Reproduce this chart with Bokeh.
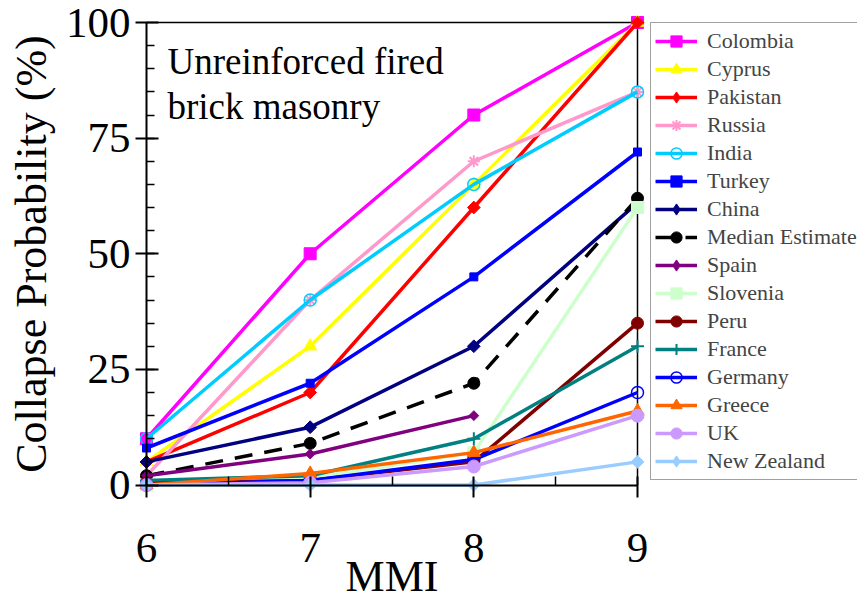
import math
from bokeh.plotting import figure
from bokeh.models import Legend, LegendItem, FixedTicker, Label, Range1d
from bokeh.embed import file_html
from bokeh.resources import INLINE

# ---- data ----
mmi = [6, 7, 8, 9]
mmi_spain = [6, 7, 8]
colombia = [10, 50, 80, 100]
cyprus = [5, 30, 65, 100]
pakistan = [5, 20, 60, 100]
russia = [2, 40, 70, 85]
india = [10, 40, 65, 85]
turkey = [8, 22, 45, 72]
china = [5, 12.5, 30, 61]
median = [2, 9, 22, 62]
spain = [2, 6.7, 15]
slovenia = [0, 1.5, 7, 60]
peru = [0.5, 1, 5, 35]
france = [1, 2, 10, 30]
germany = [0, 1, 5.5, 20]
greece = [0, 2.5, 7, 16]
uk = [0, 0.5, 4, 15]
new_zealand = [0, 0, 0, 5]

x_ticks = [6, 7, 8, 9]
x_minor = [6.5, 7.5, 8.5]
y_ticks = [0, 25, 50, 75, 100]
y_minor = list(range(5, 100, 5))

FONT = "Liberation Serif"
D = math.pi / 4

# name, x, y, color, marker, size, angle, hollow, dash
series = [
    ("Colombia", mmi, colombia, "#FF00FF", "square", 12, 0, False, "solid"),
    ("Cyprus", mmi, cyprus, "#FFFF00", "triangle", 13, 0, False, "solid"),
    ("Pakistan", mmi, pakistan, "#FF0000", "square", 9, D, False, "solid"),
    ("Russia", mmi, russia, "#FF99CC", "asterisk", 12, 0, False, "solid"),
    ("India", mmi, india, "#00CCFF", "circle", 12, 0, True, "solid"),
    ("Turkey", mmi, turkey, "#0000FF", "square", 8, 0, False, "solid"),
    ("China", mmi, china, "#000080", "square", 9, D, False, "solid"),
    ("Median Estimate", mmi, median, "#000000", "circle", 12, 0, False, "18 12"),
    ("Spain", mmi_spain, spain, "#800080", "square", 7, D, False, "solid"),
    ("Slovenia", mmi, slovenia, "#CCFFCC", "square", 12, 0, False, "solid"),
    ("Peru", mmi, peru, "#800000", "circle", 12, 0, False, "solid"),
    ("France", mmi, france, "#008080", "cross", 13, 0, False, "solid"),
    ("Germany", mmi, germany, "#0000FF", "circle", 12, 0, True, "solid"),
    ("Greece", mmi, greece, "#FF6600", "triangle", 13, 0, False, "solid"),
    ("UK", mmi, uk, "#CC99FF", "circle", 13, 0, False, "solid"),
    ("New Zealand", mmi, new_zealand, "#99CCFF", "square", 9, D, False, "solid"),
]

# ---- layout (canvas pixels) ----
W, H = 857, 601
PX_LEFT, PX_RIGHT = 146, 637      # where x=6 and x=9 fall
PX_TOP, PX_BOTTOM = 22, 484.5     # where y=100 and y=0 fall
x0, x1 = x_ticks[0], x_ticks[-1]
y0, y1 = y_ticks[0], y_ticks[-1]
sx = (PX_RIGHT - PX_LEFT) / (x1 - x0)
sy = (PX_BOTTOM - PX_TOP) / (y1 - y0)
xr = Range1d(x0 - PX_LEFT / sx, x1 + (W - PX_RIGHT) / sx)
yr = Range1d(y0 - (H - PX_BOTTOM) / sy, y1 + PX_TOP / sy)

p = figure(width=W, height=H, output_backend="svg", toolbar_location=None,
           x_range=xr, y_range=yr, min_border=0,
           min_border_left=0, min_border_right=0, min_border_top=0, min_border_bottom=0)
p.title.visible = False
p.xgrid.visible = False
p.ygrid.visible = False
p.outline_line_color = None
p.background_fill_color = "white"
p.border_fill_color = "white"

# plot-area frame (top and right edges)
p.line([x0, x1, x1], [y1, y1, y0], line_color="black", line_width=1.5)

items = []
for name, xs, ys, col, mk, sz, ang, hollow, dash in series:
    r_line = p.line(xs, ys, line_color=col, line_width=3.5, line_dash=dash)
    if hollow:
        r_pt = p.scatter(xs, ys, marker=mk, size=sz, angle=ang, line_color=col,
                         line_width=1.5, fill_alpha=0)
    else:
        r_pt = p.scatter(xs, ys, marker=mk, size=sz, angle=ang, line_color=col,
                         fill_color=col, line_width=2 if mk in ("asterisk", "cross") else 1)
    if ang:
        # legend-only diamond glyph (a NaN point, never drawn in the plot)
        r_leg = p.scatter([math.nan], [math.nan], marker="diamond", size=sz + 5,
                          line_color=col, fill_color=col)
        items.append(LegendItem(label=name, renderers=[r_line, r_leg]))
    else:
        items.append(LegendItem(label=name, renderers=[r_line, r_pt]))

legend = Legend(items=items, location=(650, H - 480), padding=4, margin=0, spacing=0,
                glyph_width=42, glyph_height=28, label_height=28, label_standoff=10,
                label_text_font=FONT, label_text_font_size="22px",
                border_line_color="#444444", border_line_width=1.5,
                background_fill_color="white", background_fill_alpha=1)
p.add_layout(legend)

for ax in (p.xaxis[0], p.yaxis[0]):
    ax.axis_line_width = 2
    ax.major_tick_line_width = 2
    ax.minor_tick_line_width = 1.5
    ax.major_label_text_font = FONT
    ax.major_label_text_font_size = "43px"
    ax.major_label_text_color = "black"
    ax.axis_label_text_font = FONT
    ax.axis_label_text_font_size = "44px"
    ax.axis_label_text_font_style = "normal"
    ax.axis_label_text_color = "black"

p.xaxis.fixed_location = y0
p.yaxis.fixed_location = x0
p.xaxis.bounds = (x0, x1)
p.yaxis.bounds = (y0, y1)
p.xaxis.ticker = FixedTicker(ticks=x_ticks, minor_ticks=x_minor)
p.yaxis.ticker = FixedTicker(ticks=y_ticks, minor_ticks=y_minor)
p.xaxis.major_tick_in = 9
p.xaxis.major_tick_out = 12
p.xaxis.minor_tick_in = 9
p.xaxis.minor_tick_out = 0
p.yaxis.major_tick_in = 12
p.yaxis.major_tick_out = 11
p.yaxis.minor_tick_in = 8
p.yaxis.minor_tick_out = 0
p.xaxis.major_label_standoff = 37
p.yaxis.major_label_standoff = 5
p.xaxis.axis_label = "MMI"
p.yaxis.axis_label = "Collapse Probability (%)"
p.xaxis.axis_label_standoff = -14
p.yaxis.axis_label_standoff = 7

p.add_layout(Label(x=6.128, y=91.6, text="Unreinforced fired", text_font=FONT,
                   text_font_size="37px", text_baseline="alphabetic", text_color="black"))
p.add_layout(Label(x=6.128, y=81.8, text="brick masonry", text_font=FONT,
                   text_font_size="37px", text_baseline="alphabetic", text_color="black"))

open("out.html", "w").write(file_html(p, INLINE))
